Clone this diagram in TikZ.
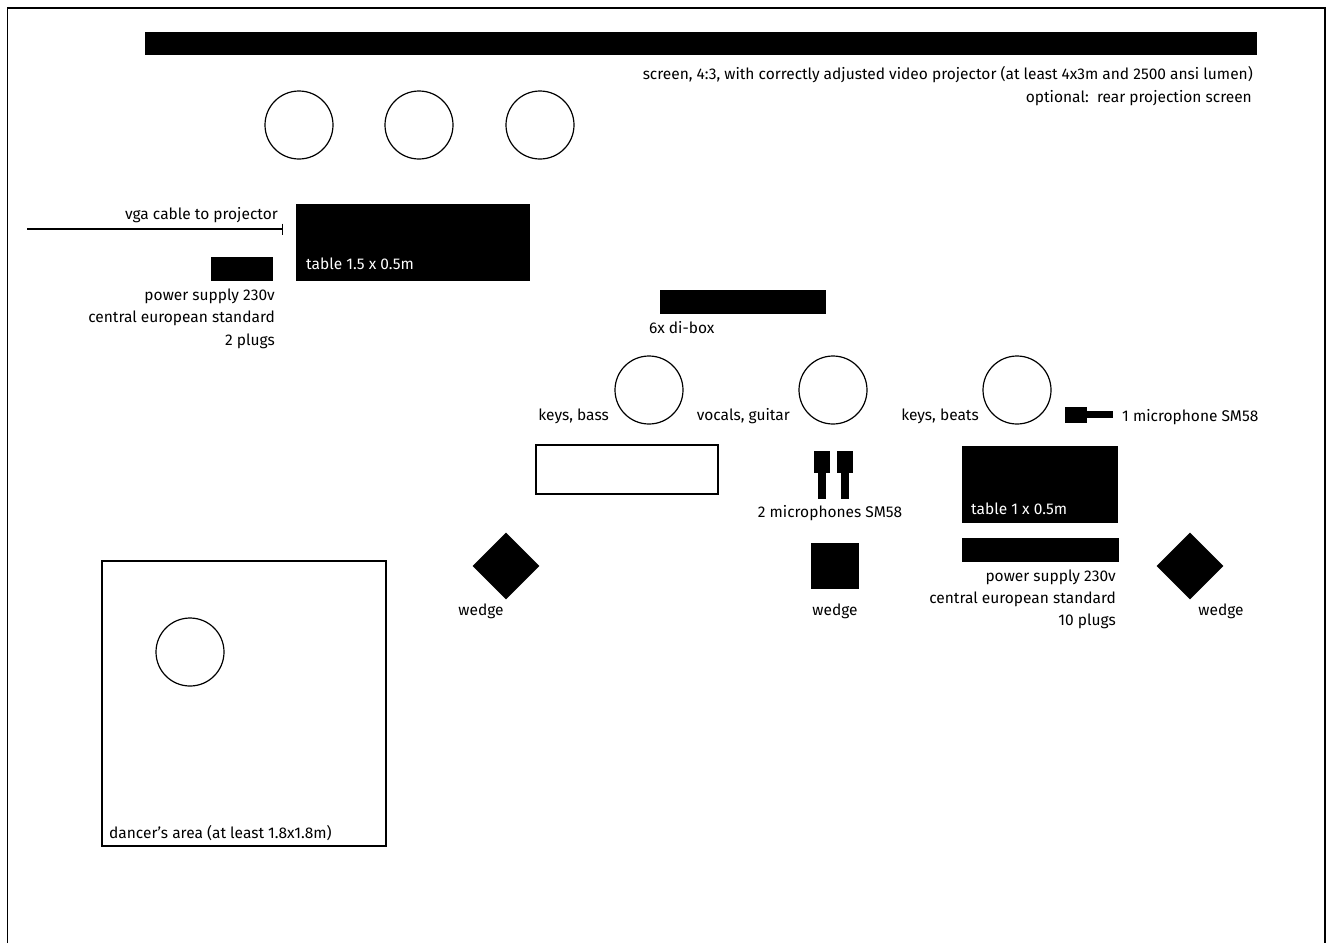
\documentclass[tikz,border=0pt]{standalone}
\usepackage{fontspec}
\setmainfont{Fira Sans}
\usetikzlibrary{shapes.geometric,arrows.meta}
\tikzset{
  block/.style={fill=black,draw=none,inner sep=0pt,outer sep=0pt},
  spot/.style={circle,draw=black,line width=1.2pt,fill=white,minimum size=68pt,inner sep=0pt},
  wedgebox/.style={diamond,fill=black,inner sep=0pt,minimum size=67pt},
  rlabel/.style={anchor=east,inner sep=0pt,font=\fontsize{15.5}{15.5}\selectfont},
  llabel/.style={anchor=west,inner sep=0pt,font=\fontsize{15.5}{15.5}\selectfont},
  clabel/.style={inner sep=0pt,font=\fontsize{15.5}{15.5}\selectfont},
}
\begin{document}
\begin{tikzpicture}[x=1pt,y=-1pt]
\useasboundingbox (0,0) rectangle (1335,943);
\draw[line width=1.2pt] (7.5,943) -- (7.5,8) -- (1325,8) -- (1325,943); % frame
% screen
\node[block,minimum width=1112pt,minimum height=23pt] (screen) at (701,43.5) {};
\node[rlabel] (screentext) at (1253,75) {screen, 4:3, with correctly adjusted video projector (at least 4x3m and 2500 ansi lumen)};
\node[rlabel] (optional) at (1252,98) {optional:\ \ rear projection screen};
% players
\foreach \x/\y/\n in {299/125/a,419/125/b,540/125/c,649/390/keys,833/390/vocals,1017/390/beats,190/652/dancer}
\node[spot] (spot\n) at (\x,\y) {};
\node[rlabel] (keystext) at (609,416) {keys, bass};
\node[rlabel] (vocalstext) at (790,416) {vocals, guitar};
\node[rlabel] (beatstext) at (979,416) {keys, beats};
% left table
\node[block,minimum width=234pt,minimum height=77pt] (bigtable) at (413,242.5) {};
\node[llabel,text=white] (bigtabletext) at (306,264) {table 1.5 x 0.5m};
\coordinate (vgastart) at (27,229);
\coordinate (vgaend) at (283,229);
\draw[line width=1.2pt,-{Bar[width=11pt,line width=1.2pt]}] (vgastart) -- (vgaend);
\node[rlabel] (vgatext) at (278,215) {vga cable to projector};
\node[block,minimum width=62pt,minimum height=24pt] (powerleft) at (242,269) {};
\foreach \y/\t/\n in {296/power supply 230v/a,318/central european standard/b,341/2 plugs/c}
\node[rlabel] (powerleft\n) at (275,\y) {\t};
% di-box
\node[block,minimum width=166pt,minimum height=24pt] (dibox) at (743,302) {};
\node[llabel] (diboxtext) at (649,328) {6x di-box};
% microphones
\node[block,minimum width=22pt,minimum height=16pt] (headone) at (1076,415) {};
\node[block,minimum width=26pt,minimum height=7pt] (stemone) at (1100,414.5) {};
\node[llabel] (micone) at (1122,417) {1 microphone SM58};
\foreach \x/\n in {822/a,844.5/b} {
\node[block,minimum width=16pt,minimum height=22pt] (head\n) at (\x,462) {};
\node[block,minimum width=8pt,minimum height=26pt] (stem\n) at (\x,486) {};
}
\node[clabel] (mictwo) at (830,513) {2 microphones SM58};
% keyboard table
\node[draw=black,line width=1.2pt,fill=white,minimum width=182pt,minimum height=49pt,inner sep=0pt] (keytable) at (627,469.5) {};
% right table
\node[block,minimum width=156pt,minimum height=77pt] (smalltable) at (1040,484.5) {};
\node[llabel,text=white] (smalltabletext) at (971,509) {table 1 x 0.5m};
\node[block,minimum width=157pt,minimum height=24pt] (powerright) at (1040.5,550) {};
\foreach \y/\t/\n in {577/power supply 230v/a,599/central european standard/b,621/10 plugs/c}
\node[rlabel] (powerright\n) at (1116,\y) {\t};
% wedges
\node[wedgebox] (wedgeleft) at (506,566) {};
\node[wedgebox] (wedgeright) at (1190,566) {};
\node[block,minimum width=48pt,minimum height=46pt] (wedgemid) at (835,566) {};
\foreach \x/\n in {481/a,835/b,1221/c}
\node[clabel] (wedgetext\n) at (\x,611) {wedge};
% dancer
\node[draw=black,line width=1.2pt,minimum width=284pt,minimum height=285pt,inner sep=0pt] (dancearea) at (244,703.5) {};
\node[llabel] (dancetext) at (109,833) {dancer's area (at least 1.8x1.8m)};
\end{tikzpicture}
\end{document}
